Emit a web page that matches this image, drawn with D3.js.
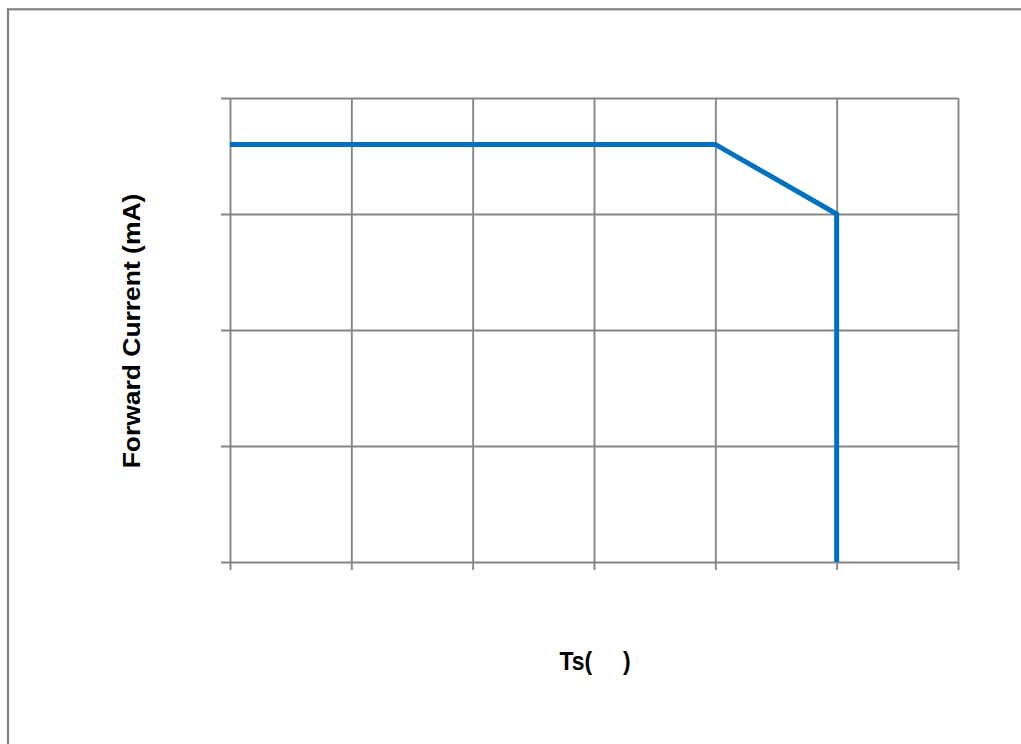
<!DOCTYPE html>
<meta charset="utf-8">
<script src="https://d3js.org/d3.v7.min.js"></script>
<style>
  body { margin: 0; background: #fff; }
  text { font-family: "Liberation Sans", Arial, sans-serif; font-weight: bold; }
</style>
<svg id="vis"></svg>

<script>
  // data
  var xTicks = [0, 25, 50, 75, 100, 125, 150]
  var yTicks = [0, 50, 100, 150, 200]
  var tempC = [0, 100, 125, 125]
  var currentMA = [180, 180, 150, 0]

  var W = 1021, H = 744
  var plotL = 230, plotR = 958, plotT = 98, plotB = 562
  var gridColor = '#868686'

  var svg = d3.select('#vis')
      .attr('width', W)
      .attr('height', H)

  // outer frame (runs off the right / bottom edge)
  svg.append('rect')
    .attr('x', 8).attr('y', 9.3)
    .attr('width', W + 20).attr('height', H + 20)
    .attr('fill', 'none')
    .attr('stroke', gridColor)
    .attr('stroke-width', 2.3)

  var x = d3.scaleLinear().domain([0, 150]).range([plotL, plotR])
  var y = d3.scaleLinear().domain([0, 200]).range([plotB, plotT])

  // horizontal grid + left tick marks
  var gy = svg.append('g')
    .attr('transform', 'translate(' + plotR + ',0)')
    .call(d3.axisLeft(y).tickValues(yTicks).tickSize(plotR - 221).tickFormat(''))
  gy.select('.domain').remove()

  // vertical grid + bottom tick marks
  var gx = svg.append('g')
    .attr('transform', 'translate(0,' + plotT + ')')
    .call(d3.axisBottom(x).tickValues(xTicks).tickSize(570 - plotT).tickFormat(''))
  gx.select('.domain').remove()

  svg.selectAll('.tick line')
    .attr('stroke', gridColor)
    .attr('stroke-width', 1.9)

  // derating curve
  var line = d3.line()
    .x(function (d, i) { return x(tempC[i]) })
    .y(function (d) { return y(d) })

  svg.append('path')
    .datum(currentMA)
    .attr('d', line)
    .attr('fill', 'none')
    .attr('stroke', '#0070c0')
    .attr('stroke-width', 5)
    .attr('stroke-linejoin', 'miter')

  // axis titles (picture is stretched vertically a little)
  svg.append('text')
    .attr('transform', 'translate(140,331) rotate(-90) scale(1.15,1)')
    .attr('text-anchor', 'middle')
    .style('font-size', '23px')
    .text('Forward Current (mA)')

  svg.append('text')
    .attr('transform', 'translate(595,670) scale(1,1.12)')
    .attr('text-anchor', 'middle')
    .style('font-size', '23px')
    .style('white-space', 'pre')
    .text('Ts(\u2003\u2004)')
</script>
